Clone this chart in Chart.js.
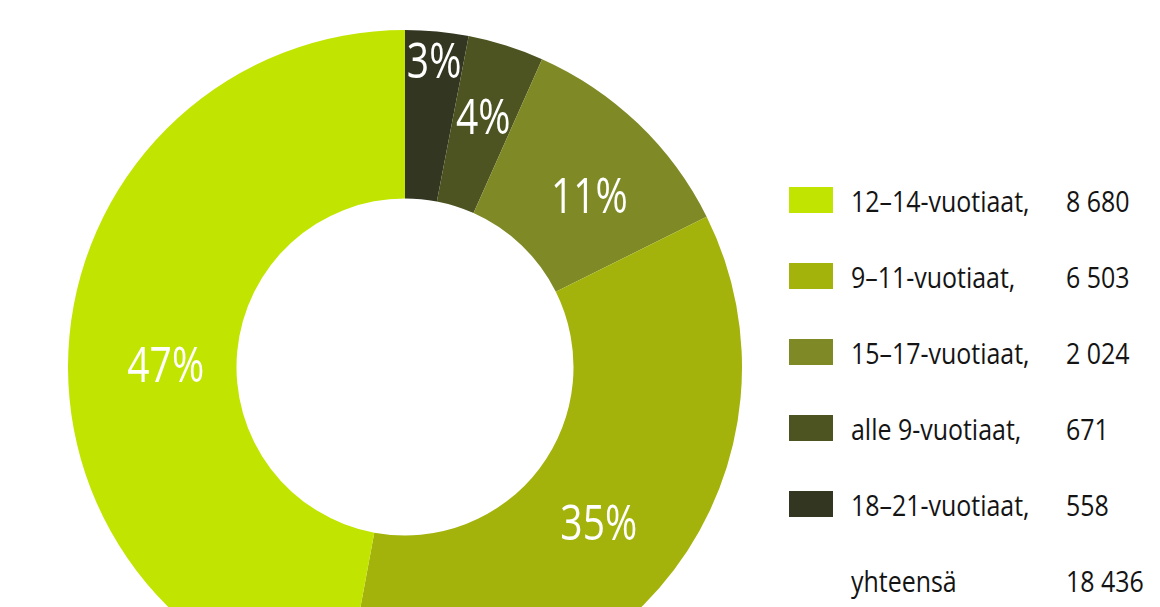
<!DOCTYPE html>
<html>
<head>
<meta charset="utf-8">
<script src="https://cdn.jsdelivr.net/npm/chart.js@4/dist/chart.umd.min.js"></script>
<style>
  html, body { margin: 0; padding: 0; background: #fff; }
  body { width: 1160px; height: 607px; overflow: hidden; position: relative;
         font-family: "Open Sans", sans-serif; }
  #wrap { position: absolute; left: 68px; top: 30px; width: 674px; height: 674px; }
  #legend { position: absolute; left: 789px; top: 162px; }
  .row { position: relative; height: 76px; width: 360px; display: flex; align-items: center; font-size: 29px; color: #141414; }
  .box { width: 44px; height: 26px; }
  .lab, .val { position: absolute; white-space: nowrap; transform: scaleX(0.86); transform-origin: left center; }
  .lab { left: 62px; }
  .val { left: 277px; }
</style>
</head>
<body>
<div id="wrap"><canvas id="donut"></canvas></div>
<div id="legend"></div>
<script>
// legend order (largest first)
const categories = ["12–14-vuotiaat,", "9–11-vuotiaat,", "15–17-vuotiaat,", "alle 9-vuotiaat,", "18–21-vuotiaat,"];
const counts = [8680, 6503, 2024, 671, 558];
const valueLabels = ["8 680", "6 503", "2 024", "671", "558"];
const totalLabel = "yhteensä";
const totalValue = "18 436";
const colors = ["#c1e500", "#a3b30c", "#7f8a27", "#4e5421", "#333621"];

// the ring runs clockwise from 12 o'clock starting with the smallest group
const chartLabels = categories.slice().reverse();
const chartCounts = counts.slice().reverse();
const chartColors = colors.slice().reverse();
const total = counts.reduce((a, b) => a + b, 0);

// where each percent sits: depth in the ring (0 inner, 1 outer) and a small turn in degrees
const labelDepth = [0.82, 0.55, 0.49, 0.48, 0.42];
const labelTurn = [0, 0, 3.5, 2, -5];

const percentLabels = {
  id: "percentLabels",
  afterDatasetsDraw(chart) {
    const ctx = chart.ctx;
    const meta = chart.getDatasetMeta(0);
    ctx.save();
    ctx.fillStyle = "#ffffff";
    ctx.font = '50px "Open Sans", sans-serif';
    ctx.textAlign = "center";
    ctx.textBaseline = "middle";
    meta.data.forEach((arc, i) => {
      const p = arc.getProps(["x", "y", "startAngle", "endAngle", "innerRadius", "outerRadius"], true);
      const mid = (p.startAngle + p.endAngle) / 2 + labelTurn[i] * Math.PI / 180;
      const r = p.innerRadius + (p.outerRadius - p.innerRadius) * labelDepth[i];
      const pct = Math.round(chartCounts[i] / total * 100) + "%";
      // squeeze the text sideways, the original face is condensed
      ctx.save();
      ctx.translate(p.x + Math.cos(mid) * r, p.y + Math.sin(mid) * r);
      ctx.scale(0.78, 1);
      ctx.fillText(pct, 0, 2);
      ctx.restore();
    });
    ctx.restore();
  }
};

new Chart(document.getElementById("donut"), {
  type: "doughnut",
  data: {
    labels: chartLabels,
    datasets: [{
      data: chartCounts,
      backgroundColor: chartColors,
      borderWidth: 0,
      hoverOffset: 0
    }]
  },
  options: {
    responsive: true,
    maintainAspectRatio: false,
    animation: false,
    cutout: "50%",
    layout: { padding: 0 },
    plugins: {
      legend: { display: false },
      tooltip: { enabled: false }
    }
  },
  plugins: [percentLabels]
});

// legend with counts
const legend = document.getElementById("legend");
categories.forEach((c, i) => {
  const row = document.createElement("div");
  row.className = "row";
  row.innerHTML = '<div class="box" style="background:' + colors[i] + '"></div>' +
    '<span class="lab">' + c + '</span><span class="val">' + valueLabels[i] + '</span>';
  legend.appendChild(row);
});
const totalRow = document.createElement("div");
totalRow.className = "row";
totalRow.innerHTML = '<span class="lab">' + totalLabel + '</span><span class="val">' + totalValue + '</span>';
legend.appendChild(totalRow);
</script>
</body>
</html>
